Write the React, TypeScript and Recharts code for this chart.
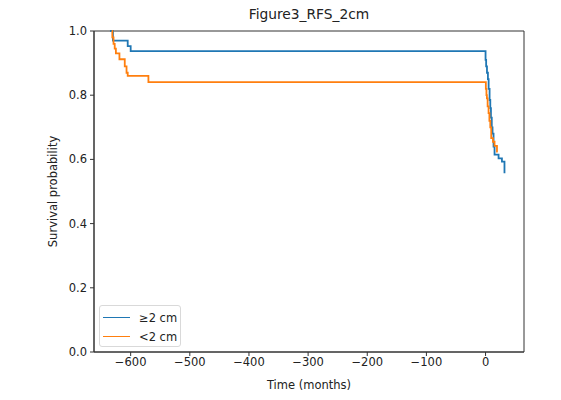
import { LineChart, Line, XAxis, YAxis, ReferenceArea } from "recharts";

// Kaplan-Meier steps (time in months, survival probability)
const bigTimes = [-635, -630, -605, -600, 0, 1, 2.4, 4, 5.2, 6.8, 8, 9.1, 10.5, 11.8, 13.5, 15.2, 22, 27.7, 32];
const bigSurv = [1.0, 0.97, 0.953, 0.937, 0.91, 0.89, 0.87, 0.85, 0.82, 0.785, 0.76, 0.73, 0.7, 0.68, 0.64, 0.615, 0.603, 0.593, 0.557];

const smallTimes = [-632, -631, -629, -627, -625, -619, -610, -607, -605, -570, 0.5, 1.5, 2.3, 3.5, 5.1, 6.5, 8, 9.6, 12.5, 15.2, 19.3, 20.5];
const smallSurv = [1.0, 0.98, 0.96, 0.945, 0.93, 0.912, 0.89, 0.87, 0.86, 0.841, 0.82, 0.8, 0.79, 0.765, 0.744, 0.72, 0.7, 0.666, 0.655, 0.642, 0.624, 0.624];

const xTicks = [-600, -500, -400, -300, -200, -100, 0];
const yTicks = [0, 0.2, 0.4, 0.6, 0.8, 1.0];
const xDomain: [number, number] = [-662, 65];

const seriesNames = ["≥2 cm", "<2 cm"];
const BLUE = "#1f77b4";
const ORANGE = "#ff7f0e";
const INK = "#222";
const FONT = "DejaVu Sans, sans-serif";

const bigData = bigTimes.map((t, i) => ({ t, s: bigSurv[i] }));
const smallData = smallTimes.map((t, i) => ({ t, s: smallSurv[i] }));

function fmtX(v: number) {
  return v < 0 ? "\u2212" + Math.abs(v) : String(v);
}

// legend sits inside the axes (lower left), like matplotlib's loc="best"
function LegendBox() {
  const items = [
    { name: seriesNames[0], color: BLUE },
    { name: seriesNames[1], color: ORANGE },
  ];
  return (
    <div
      style={{
        position: "absolute",
        left: 99,
        top: 305,
        width: 82,
        height: 42,
        boxSizing: "border-box",
        border: "1px solid #d9d9d9",
        borderRadius: 3,
        background: "rgba(255,255,255,0.8)",
        padding: "2px 0 0 3px",
        fontFamily: FONT,
        fontSize: 11.5,
        color: INK,
        whiteSpace: "nowrap",
      }}
    >
      {items.map((it) => (
        <div key={it.name} style={{ display: "flex", alignItems: "center", height: 19 }}>
          <span style={{ display: "inline-block", width: 27, height: 0, borderTop: `1.8px solid ${it.color}`, marginRight: 9 }} />
          <span>{it.name}</span>
        </div>
      ))}
    </div>
  );
}

export default function App() {
  return (
    <div style={{ position: "absolute", left: 0, top: 0, width: 561, height: 400, background: "#fff" }}>
      <div
        style={{
          position: "absolute",
          left: 94,
          width: 430,
          top: 6,
          textAlign: "center",
          fontFamily: FONT,
          fontSize: 13.8,
          color: INK,
        }}
      >
        Figure3_RFS_2cm
      </div>
      <LineChart width={561} height={400} margin={{ top: 31, right: 37, left: 12, bottom: 0 }}>
        <XAxis
          dataKey="t"
          type="number"
          domain={xDomain}
          ticks={xTicks}
          allowDataOverflow
          tickFormatter={fmtX}
          tick={{ fill: INK, fontSize: 11.5, fontFamily: FONT }}
          tickSize={4}
          tickMargin={2}
          stroke="#333"
          height={48}
          label={{ value: "Time (months)", position: "insideBottom", offset: 11, fill: INK, fontSize: 11.5, fontFamily: FONT }}
        />
        <YAxis
          type="number"
          domain={[0, 1]}
          ticks={yTicks}
          tickFormatter={(v: number) => v.toFixed(1)}
          tick={{ fill: INK, fontSize: 11.5, fontFamily: FONT }}
          tickSize={4}
          tickMargin={3}
          stroke="#333"
          width={82}
          label={{ value: "Survival probability", angle: -90, position: "center", fill: INK, fontSize: 11.5, fontFamily: FONT }}
        />
        <ReferenceArea x1={xDomain[0]} x2={xDomain[1]} y1={0} y2={1} fill="none" stroke="#333" strokeWidth={1} ifOverflow="visible" />
        <Line
          data={bigData}
          dataKey="s"
          name={seriesNames[0]}
          type="stepAfter"
          stroke={BLUE}
          strokeWidth={1.8}
          dot={false}
          isAnimationActive={false}
        />
        <Line
          data={smallData}
          dataKey="s"
          name={seriesNames[1]}
          type="stepAfter"
          stroke={ORANGE}
          strokeWidth={1.8}
          dot={false}
          isAnimationActive={false}
        />
      </LineChart>
      <LegendBox />
    </div>
  );
}
